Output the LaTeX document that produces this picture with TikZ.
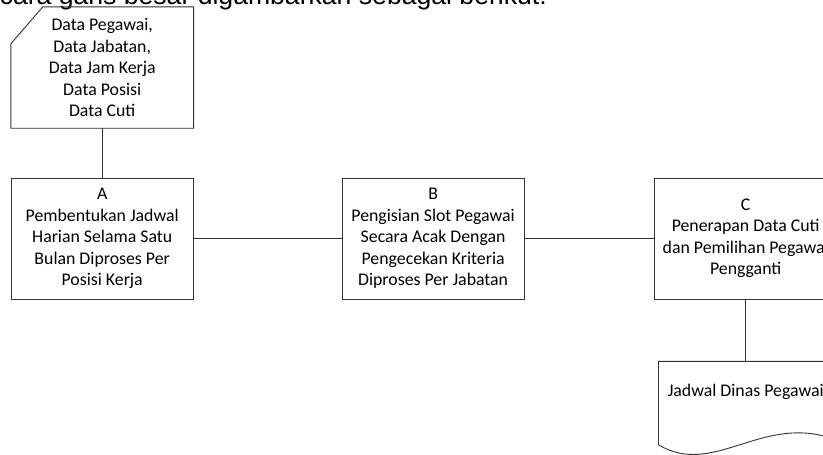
\documentclass[tikz,border=0pt]{standalone}
\usepackage{fontspec}
\setmainfont{Carlito}
\newfontfamily\arialfont{Liberation Sans}
\usetikzlibrary{positioning}
\tikzstyle{process} = [rectangle,
minimum width=182.3pt,
minimum height=121pt,
inner sep=0pt,
align=center,
draw=black!80,
line width=0.9pt,
font=\fontsize{17.8}{21.5}\selectfont]
\tikzstyle{dataio} = [rectangle,
minimum width=182.3pt,
minimum height=121pt,
inner sep=0pt,
align=center,
font=\fontsize{17.8}{21.5}\selectfont]
\tikzstyle{docshape} = [rectangle,
minimum width=174pt,
minimum height=60pt,
inner sep=0pt,
align=center,
font=\fontsize{17.8}{21.5}\selectfont]
\tikzstyle{line} = [draw=black!80, line width=0.9pt]

\begin{document}
\begin{tikzpicture}
\useasboundingbox (0,0) rectangle (823pt,-455pt);
\clip (0,0) rectangle (823pt,-455pt);
\node (intro) [anchor=base east, inner sep=0pt, font=\arialfont\fontsize{26.6}{30}\selectfont] at (547pt,-5pt) {secara garis besar digambarkan sebagai berikut:};

\node (data) [dataio] at (102.2pt,-67.5pt) {Data Pegawai,\\Data Jabatan,\\Data Jam Kerja\\Data Posisi\\Data Cuti};
\node (A) [process, below=49.3pt of data] {A\\Pembentukan Jadwal\\Harian Selama Satu\\Bulan Diproses Per\\Posisi Kerja};
\node (B) [process, right=147.7pt of A] {B\\Pengisian Slot Pegawai\\Secara Acak Dengan\\Pengecekan Kriteria\\Diproses Per Jabatan};
\node (C) [process, right=129.4pt of B] {C\\Penerapan Data Cuti\\dan Pemilihan Pegawai\\Pengganti};
\node (jadwal) [docshape, below=62pt of C] {Jadwal Dinas Pegawai};

% outlines of the data and document shapes
\draw[line] ([xshift=32pt]data.north west) -- (data.north east) -- (data.south east)
  -- (data.south west) -- ([yshift=-37pt]data.north west) -- cycle;
\draw[line] (jadwal.north west) -- (jadwal.north east) -- ([yshift=-17pt]jadwal.south east)
  .. controls ([shift={(-71pt,8pt)}]jadwal.south east) and ([shift={(55pt,-56pt)}]jadwal.south west)
  .. ([yshift=-23pt]jadwal.south west) -- cycle;

\draw[line] (data) -- (A)
            (A) -- (B)
            (B) -- (C)
            (C) -- (jadwal);
\end{tikzpicture}
\end{document}
